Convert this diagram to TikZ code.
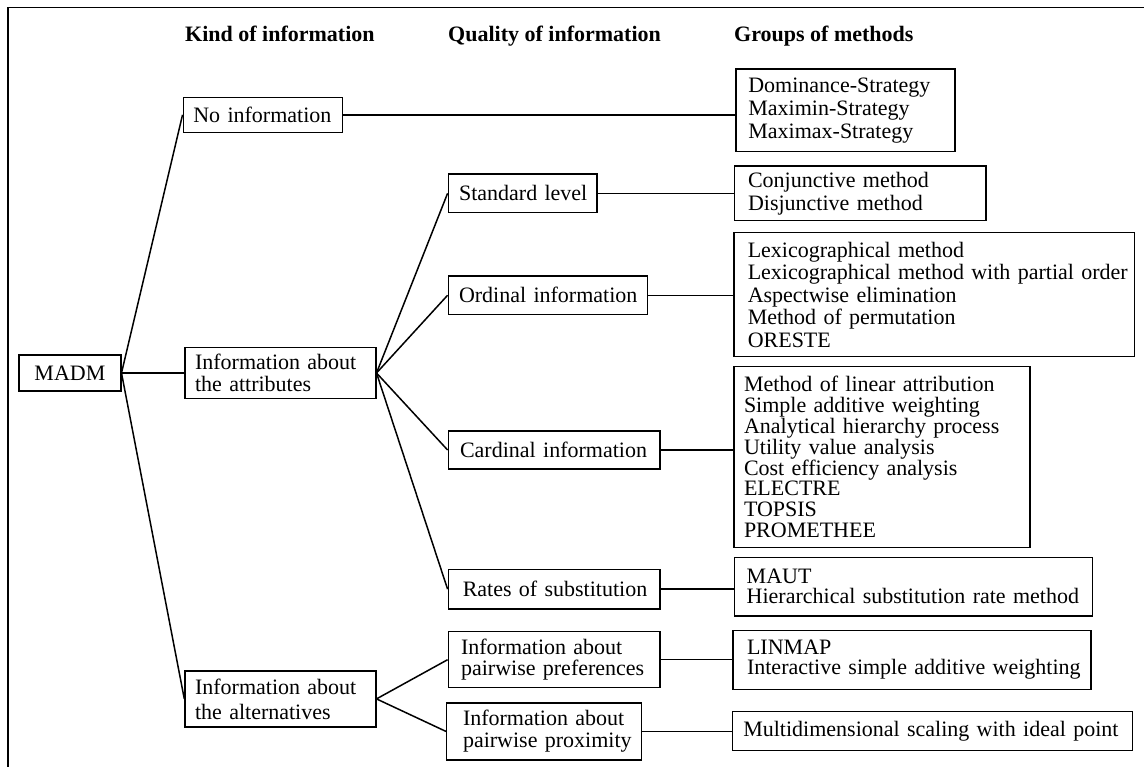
\documentclass[tikz,border=0pt]{standalone}
\usepackage{fontspec}
\setmainfont{Liberation Serif}
\begin{document}
\begin{tikzpicture}[x=1pt,y=-1pt,
  box/.style={draw, rectangle, line width=1.5pt, inner ysep=0pt, align=left,
    font=\fontsize{22pt}{22.5pt}\selectfont},
  lead/.style={font=\fontsize{22pt}{#1}\selectfont},
  head/.style={anchor=base west, inner sep=0pt, font=\fontsize{22pt}{24pt}\selectfont\bfseries},
  conn/.style={line width=1.5pt}]
\useasboundingbox (0,0) rectangle (1144,767);

% outer frame
\draw[line width=1.5pt] (8,767) -- (8,7.3) -- (1144,7.3);

% column headings
\node[head] (h1) at (185,41.5) {Kind of information};
\node[head] (h2) at (448,41.5) {Quality of information};
\node[head] (h3) at (734,41.5) {Groups of methods};

% root
\node[box, align=center, minimum width=101.7pt, minimum height=36pt, inner xsep=0pt]
  (madm) at (69.9,373) {MADM};

% kind of information
\node[box, minimum width=159.4pt, minimum height=35pt, inner xsep=10pt, text width=139.4pt]
  (noinfo) at (263,114.8) {\mbox{No information}};
\node[box, lead=21.5pt, minimum width=190.7pt, minimum height=50.6pt, inner xsep=10pt, text width=170.7pt]
  (attr) at (280.4,373) {\mbox{Information about}\\\mbox{the attributes}};
\node[box, lead=25pt, minimum width=190.7pt, minimum height=55.7pt, inner xsep=10pt, text width=170.7pt]
  (alt) at (280.4,698.9) {\mbox{Information about}\\\mbox{the alternatives}};

% quality of information
\node[box, minimum width=148.7pt, minimum height=38.7pt, inner xsep=10.7pt, text width=127.3pt]
  (std) at (522.7,193.3) {\mbox{Standard level}};
\node[box, minimum width=199.4pt, minimum height=38.7pt, inner xsep=10.7pt, text width=178pt]
  (ord) at (548,295.3) {\mbox{Ordinal information}};
\node[box, minimum width=211.7pt, minimum height=38pt, inner xsep=11.7pt, text width=188.3pt]
  (card) at (554.2,450) {\mbox{Cardinal information}};
\node[box, minimum width=211.7pt, minimum height=39.7pt, inner xsep=14.4pt, text width=182.9pt]
  (rates) at (554.2,589.2) {\mbox{Rates of substitution}};
\node[box, lead=21.7pt, minimum width=211.7pt, minimum height=56pt, inner xsep=12.7pt, text width=186.3pt]
  (pref) at (554.2,659.7) {\mbox{Information about}\\\mbox{pairwise preferences}};
\node[box, lead=21.7pt, minimum width=195pt, minimum height=57.3pt, inner xsep=16.3pt, text width=162.4pt]
  (prox) at (544.2,731.4) {\mbox{Information about}\\\mbox{pairwise proximity}};

% groups of methods
\node[box, lead=23.3pt, minimum width=219.3pt, minimum height=82.7pt, inner xsep=12.6pt, text width=194.1pt]
  (dom) at (845.4,110.4) {\mbox{Dominance-Strategy}\\\mbox{Maximin-Strategy}\\\mbox{Maximax-Strategy}};
\node[box, lead=23.3pt, minimum width=251.7pt, minimum height=54.7pt, inner xsep=13.7pt, text width=224.3pt]
  (conj) at (860.2,193.4) {\mbox{Conjunctive method}\\\mbox{Disjunctive method}};
\node[box, lead=22.5pt, minimum width=400.3pt, minimum height=124pt, inner xsep=13.7pt, text width=372.9pt]
  (lex) at (934.2,294.7) {\mbox{Lexicographical method}\\\mbox{Lexicographical method with partial order}\\\mbox{Aspectwise elimination}\\\mbox{Method of permutation}\\\mbox{ORESTE}};
\node[box, lead=20.86pt, minimum width=296pt, minimum height=180.6pt, inner xsep=10pt, text width=276pt]
  (lin) at (882,457) {\mbox{Method of linear attribution}\\\mbox{Simple additive weighting}\\\mbox{Analytical hierarchy process}\\\mbox{Utility value analysis}\\\mbox{Cost efficiency analysis}\\\mbox{ELECTRE}\\\mbox{TOPSIS}\\\mbox{PROMETHEE}};
\node[box, lead=20pt, minimum width=358pt, minimum height=58.7pt, inner xsep=12.4pt, text width=333.2pt]
  (maut) at (913.3,586.7) {\mbox{MAUT}\\\mbox{Hierarchical substitution rate method}};
\node[box, lead=20pt, minimum width=358.3pt, minimum height=58.6pt, inner xsep=14.3pt, text width=329.7pt]
  (linmap) at (911.9,660) {\mbox{LINMAP}\\\mbox{Interactive simple additive weighting}};
\node[box, minimum width=400pt, minimum height=39pt, inner xsep=10.6pt, text width=378.8pt]
  (multi) at (932.7,731.2) {\mbox{Multidimensional scaling with ideal point}};

% tree connectors
\draw[conn] (madm.east) -- (noinfo.west);
\draw[conn] (madm.east) -- (attr.west);
\draw[conn] (madm.east) -- (alt.west);
\draw[conn] (attr.east) -- (std.west);
\draw[conn] (attr.east) -- (ord.west);
\draw[conn] (attr.east) -- (card.west);
\draw[conn] (attr.east) -- (rates.west);
\draw[conn] (alt.east) -- (pref.west);
\draw[conn] (alt.east) -- (prox.west);

% links to the method groups
\draw[conn] (noinfo.east) -- (noinfo.east -| dom.west);
\draw[conn] (std.east) -- (std.east -| conj.west);
\draw[conn] (ord.east) -- (ord.east -| lex.west);
\draw[conn] (card.east) -- (card.east -| lin.west);
\draw[conn] (rates.east) -- (rates.east -| maut.west);
\draw[conn] (pref.east) -- (pref.east -| linmap.west);
\draw[conn] (prox.east) -- (prox.east -| multi.west);
\end{tikzpicture}
\end{document}
